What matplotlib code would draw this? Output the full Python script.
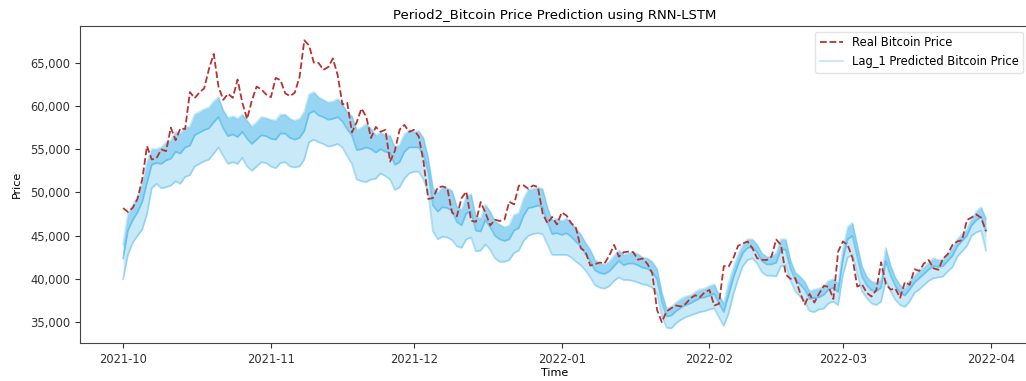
import matplotlib
matplotlib.use('Agg')
import matplotlib.pyplot as plt
import matplotlib.dates as mdates
from matplotlib.ticker import FuncFormatter
import numpy as np
import pandas as pd

# Daily closing price, 2021-10-01 .. 2022-03-31
dates = pd.date_range('2021-10-01', '2022-03-31', freq='D')

real_price = [
    # Oct
    48199, 47753, 48231, 49251, 51514, 55361, 53805, 53967, 54968, 54772, 57485, 56041, 57401, 57322, 61593, 60892,
    61553, 62026, 64262, 65993, 62210, 60692, 61393, 60931, 63040, 60364, 58483, 60622, 62228, 61888, 61318,
    # Nov
    61004, 63226, 62970, 61452, 61125, 61527, 63326, 67566, 66971, 64995, 64949, 64155, 64469, 65466, 63557,
    60161, 60368, 56942, 58119, 59697, 58730, 56289, 57569, 57005, 57229, 53569, 54815, 57248, 57806, 57005,
    # Dec
    57229, 56477, 53598, 49253, 49368, 50582, 50700, 50505, 47672, 47243, 49362, 50098, 46737, 46613, 48896, 47666,
    46203, 46849, 46708, 46881, 48936, 48628, 50784, 50822, 50429, 50809, 50640, 47588, 46444, 47178, 46306,
    # Jan
    47686, 47345, 46458, 45897, 43569, 43161, 41558, 41734, 41912, 41822, 42736, 43949, 42592, 43100, 43177, 43114,
    42250, 42375, 41744, 40680, 36458, 35030, 36276, 36654, 36954, 36852, 37138, 37784, 38138, 37917, 38483,
    # Feb
    38743, 36952, 37154, 41501, 41441, 42413, 43841, 44118, 44339, 43565, 42407, 42244, 42197, 42587, 44575, 43961,
    40538, 40031, 40122, 38431, 37075, 38286, 37297, 38332, 39215, 39106, 37710, 43194,
    # Mar
    44355, 43925, 42452, 39138, 39401, 38420, 37989, 38730, 41942, 39438, 38795, 38905, 37850, 39666, 39338, 41143,
    40951, 41801, 42191, 41248, 41077, 42358, 42893, 43961, 44349, 44500, 46820, 47128, 47465, 47063, 45539,
]

# Lag_1 predictions (in thousands): highest run, a middle run and the lowest run
pred_high = [
    44.0, 47.5, 48.5, 49.5, 51.0, 53.5, 55.0, 55.0, 55.2, 55.8, 56.0, 57.0, 56.8, 57.5, 57.6, 59.0,
    59.3, 59.6, 59.8, 60.5, 61.0, 59.5, 58.6, 58.8, 58.5, 59.0, 58.3, 57.6, 58.1, 58.7, 58.6,
    58.4, 58.3, 59.0, 59.0, 58.5, 58.3, 58.5, 59.3, 61.3, 61.6, 61.0, 60.7, 60.4, 60.5, 60.8,
    60.2, 59.3, 58.8, 57.2, 57.5, 57.9, 57.4, 56.6, 56.9, 56.6, 56.6, 55.2, 55.5, 56.7, 57.2,
    57.0, 57.1, 56.3, 54.0, 50.5, 50.0, 50.6, 50.5, 50.2, 48.4, 48.0, 49.6, 49.8, 47.2, 47.0, 48.6,
    47.8, 46.7, 46.3, 46.0, 46.2, 47.4, 47.6, 49.3, 50.3, 50.4, 50.6, 50.4, 48.3, 46.8, 47.0,
    46.7, 47.0, 46.5, 45.8, 45.2, 44.2, 43.4, 42.2, 41.8, 41.7, 42.0, 42.7, 43.3, 42.8, 43.0, 43.1,
    42.9, 42.5, 42.4, 42.0, 41.2, 38.5, 36.6, 36.8, 37.3, 37.7, 38.0, 38.1, 38.5, 38.8, 38.9,
    39.2, 39.4, 38.2, 37.2, 39.5, 41.3, 42.8, 44.0, 44.6, 44.6, 44.0, 43.0, 42.6, 42.6, 43.0, 44.6,
    44.6, 42.2, 40.8, 40.3, 39.7, 38.6, 38.8, 38.9, 39.2, 39.8, 40.0, 39.5,
    43.5, 46.0, 46.5, 44.0, 41.5, 40.3, 39.7, 39.6, 40.0, 43.6, 41.6, 40.2, 39.3, 38.9, 39.8, 40.4,
    41.0, 41.4, 41.9, 42.4, 42.2, 42.3, 42.9, 43.6, 44.6, 45.2, 45.8, 47.0, 47.8, 48.3, 47.0,
]

pred_mid = [
    42.4, 45.6, 46.8, 47.7, 48.9, 51.1, 53.2, 53.4, 53.3, 53.7, 53.9, 54.7, 54.5, 55.2, 55.4, 56.6,
    56.9, 57.2, 57.4, 58.1, 58.7, 57.4, 56.5, 56.7, 56.4, 57.0, 56.2, 55.6, 56.1, 56.6, 56.5,
    56.2, 56.1, 56.8, 56.8, 56.3, 56.1, 56.3, 57.1, 59.1, 59.4, 58.9, 58.7, 58.4, 58.5, 58.7,
    58.2, 57.3, 56.6, 54.9, 55.0, 55.2, 55.0, 54.6, 55.0, 54.7, 54.6, 53.2, 53.5, 54.7, 55.2,
    55.2, 55.2, 54.4, 52.4, 48.5, 47.8, 48.3, 48.2, 47.9, 46.6, 46.2, 47.6, 47.8, 45.6, 45.5, 46.8,
    46.0, 45.0, 44.6, 44.4, 44.6, 45.6, 45.9, 47.3, 48.2, 48.3, 48.5, 48.3, 46.6, 45.2, 45.3,
    45.1, 45.3, 44.9, 44.3, 43.8, 42.9, 42.1, 41.0, 40.7, 40.6, 40.9, 41.5, 42.1, 41.6, 41.8, 41.8,
    41.6, 41.3, 41.2, 40.8, 40.0, 37.4, 35.7, 35.8, 36.3, 36.7, 37.0, 37.2, 37.5, 37.8, 37.9,
    38.1, 38.3, 37.2, 36.2, 38.1, 40.1, 41.7, 43.0, 43.6, 43.7, 43.1, 42.1, 41.7, 41.7, 41.9, 43.4,
    43.4, 41.2, 39.9, 39.4, 38.8, 37.7, 37.8, 37.9, 38.2, 38.8, 39.0, 38.5,
    42.3, 44.6, 45.0, 42.6, 40.3, 39.3, 38.7, 38.6, 39.0, 42.1, 40.4, 39.2, 38.4, 38.1, 38.8, 39.6,
    40.1, 40.6, 41.1, 41.5, 41.4, 41.5, 42.1, 42.7, 43.8, 44.4, 45.0, 46.2, 46.8, 47.2, 45.5,
]

pred_low = [
    40.0, 42.8, 44.2, 45.0, 45.7, 47.5, 50.5, 51.0, 50.5, 50.6, 50.8, 51.3, 51.0, 51.8, 52.0, 53.0,
    53.3, 53.6, 53.8, 54.5, 55.2, 54.2, 53.3, 53.5, 53.3, 54.0, 53.0, 52.5, 53.0, 53.5, 53.4,
    53.0, 52.8, 53.4, 53.5, 53.0, 52.9, 53.0, 53.8, 55.8, 56.1, 55.8, 55.6, 55.3, 55.4, 55.6,
    55.2, 54.2, 53.3, 51.5, 51.3, 51.2, 51.5, 51.6, 52.2, 51.9, 51.5, 50.3, 50.6, 51.6, 52.2,
    52.4, 52.4, 51.5, 50.0, 45.5, 44.6, 44.9, 44.8, 44.5, 43.8, 43.6, 44.6, 44.8, 43.2, 43.3, 44.0,
    43.4, 42.4, 42.0, 42.0, 42.2, 43.0, 43.3, 44.4, 45.0, 45.2, 45.3, 45.2, 44.0, 42.8, 42.8,
    42.8, 42.8, 42.5, 42.0, 41.6, 41.0, 40.2, 39.3, 39.0, 38.9, 39.2, 39.8, 40.2, 39.9, 39.9, 39.8,
    39.6, 39.4, 39.3, 39.0, 38.3, 35.8, 34.4, 34.3, 34.9, 35.3, 35.6, 35.8, 36.0, 36.2, 36.3,
    36.5, 36.6, 35.6, 34.6, 36.0, 38.2, 40.0, 41.5, 42.2, 42.4, 41.8, 40.8, 40.4, 40.4, 40.3, 41.5,
    41.6, 39.8, 38.6, 38.0, 37.4, 36.3, 36.2, 36.5, 36.6, 37.2, 37.4, 37.0,
    40.5, 42.5, 42.8, 40.6, 38.6, 37.8, 37.2, 37.0, 37.4, 39.8, 38.6, 37.6, 37.0, 36.8, 37.4, 38.4,
    38.8, 39.3, 39.8, 40.1, 40.2, 40.3, 40.9, 41.4, 42.6, 43.2, 43.8, 45.0, 45.4, 45.6, 43.3,
]

real = np.array(real_price)
high = np.array(pred_high) * 1000
mid = np.array(pred_mid) * 1000
low = np.array(pred_low) * 1000

fig = plt.figure(figsize=(10.26, 3.81), dpi=100)
ax = fig.add_axes([0.078, 0.10, 0.925, 0.832])

blue = '#3cb2e8'
ax.fill_between(dates, low, high, color=blue, alpha=0.28, linewidth=0)
ax.fill_between(dates, mid, high, color=blue, alpha=0.35, linewidth=0)
ax.plot(dates, low, color=blue, alpha=0.4, linewidth=1.3)
ax.plot(dates, mid, color=blue, alpha=0.55, linewidth=1.3)
ax.plot(dates, high, color=blue, alpha=0.3, linewidth=1.3, label='Lag_1 Predicted Bitcoin Price')

ax.plot(dates, real, color='#b83232', linestyle='--', linewidth=1.3, label='Real Bitcoin Price', zorder=5)

ax.set_title('Period2_Bitcoin Price Prediction using RNN-LSTM', fontsize=9.5, pad=5)
ax.set_xlabel('Time', fontsize=8, labelpad=2)
ax.set_ylabel('Price', fontsize=8, labelpad=6)

ax.xaxis.set_major_locator(mdates.MonthLocator())
ax.xaxis.set_major_formatter(mdates.DateFormatter('%Y-%m'))
ax.yaxis.set_major_formatter(FuncFormatter(lambda v, p: f'{v:,.0f}'))
ax.tick_params(labelsize=8.3, colors='#333333')
ax.set_yticks([35000, 40000, 45000, 50000, 55000, 60000, 65000])

# legend with the real price first
handles, labels = ax.get_legend_handles_labels()
ax.legend(handles[::-1], labels[::-1], loc='upper right', fontsize=8.3,
          frameon=True, edgecolor='#dddddd', fancybox=True)

for side in ['top', 'right', 'left', 'bottom']:
    ax.spines[side].set_color('#444444')

fig.savefig('out.png', dpi=100, facecolor='white')
plt.close()
